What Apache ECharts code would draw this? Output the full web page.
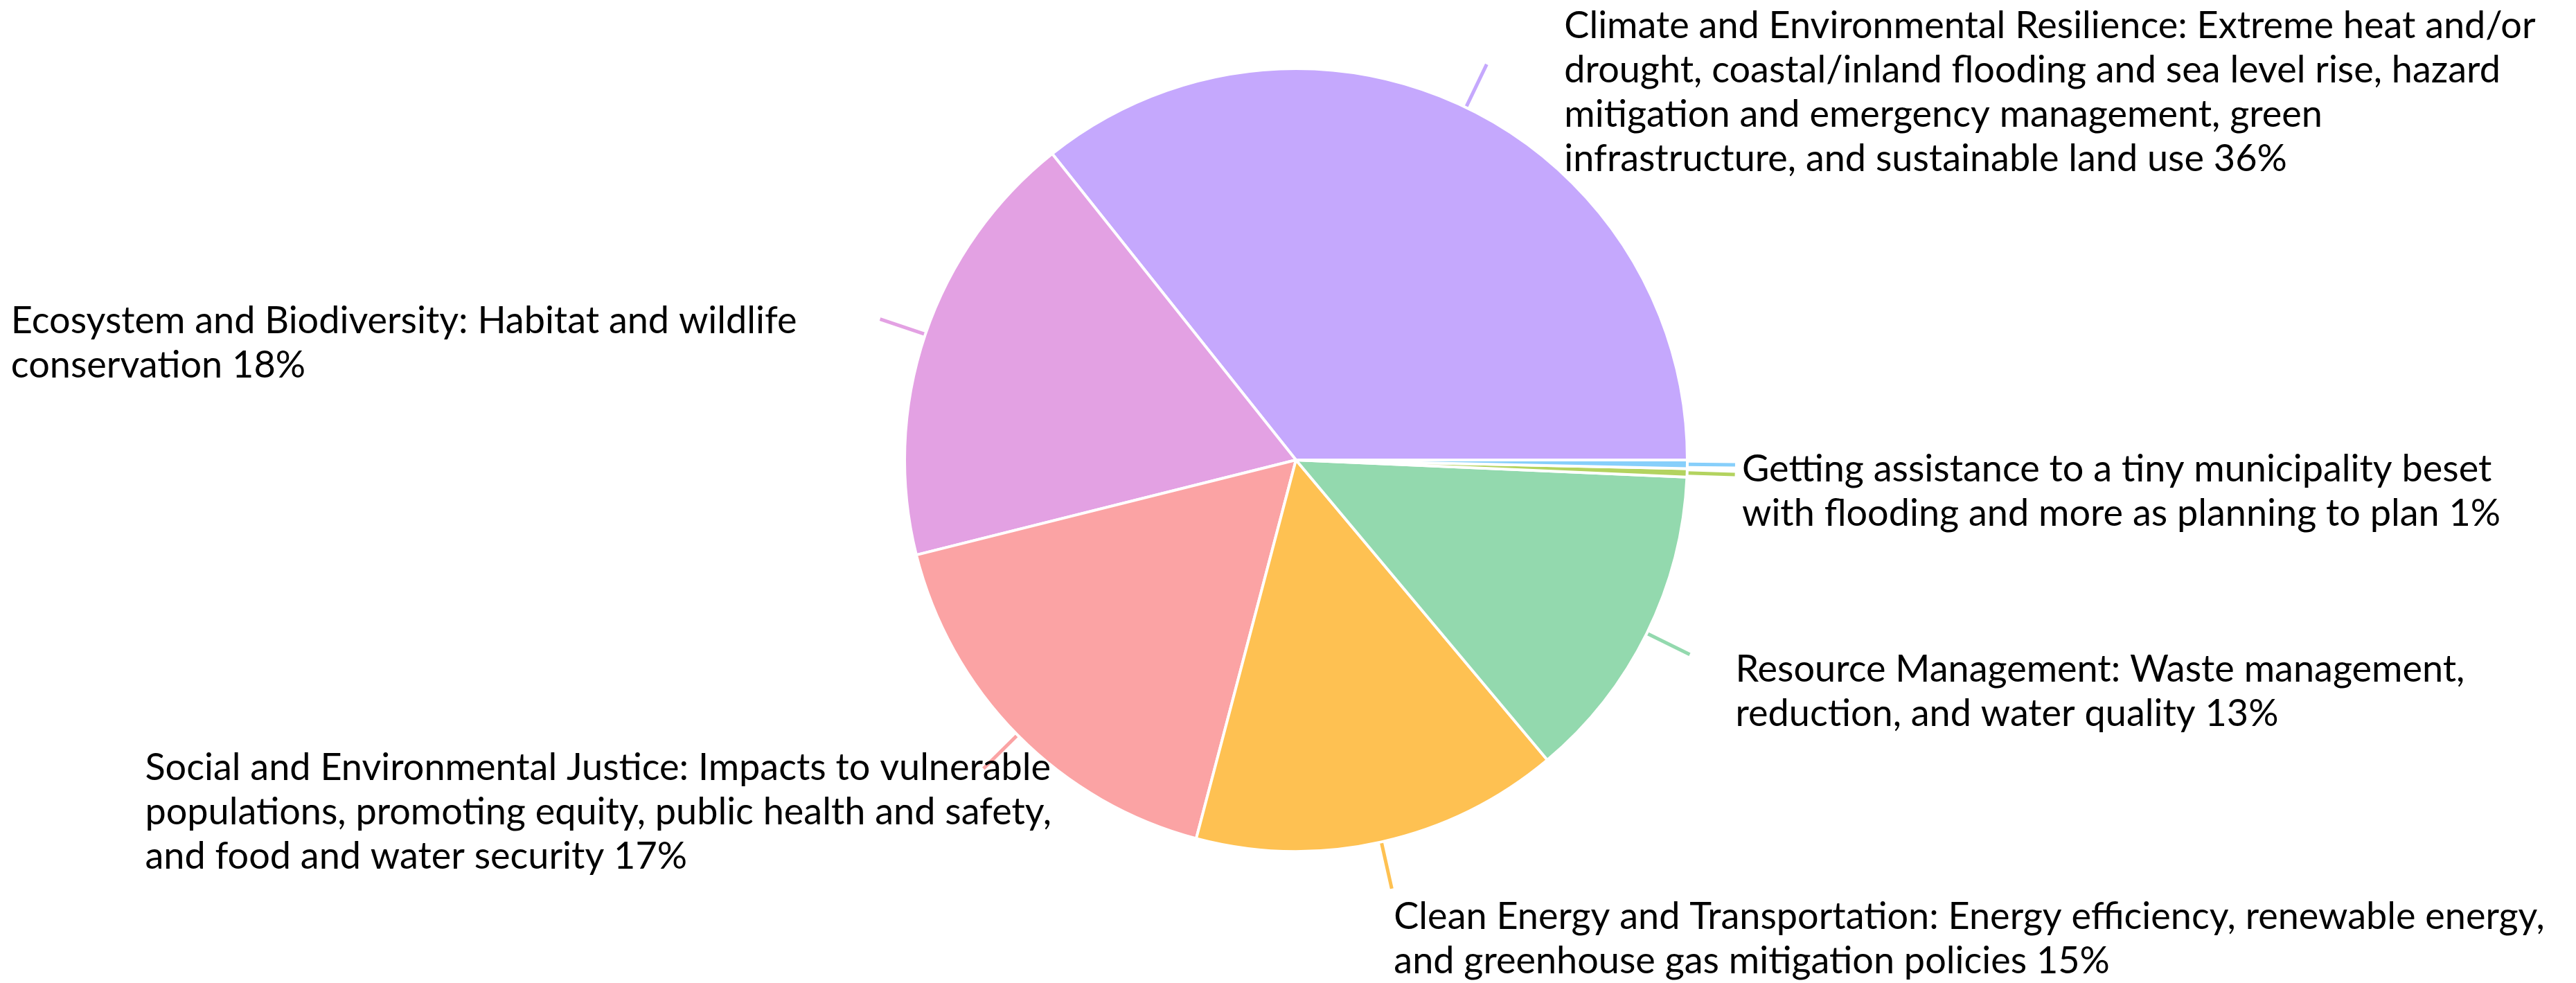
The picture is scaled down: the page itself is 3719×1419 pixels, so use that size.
<!DOCTYPE html>
<html>
<head>
<meta charset="utf-8">
<script src="https://cdn.jsdelivr.net/npm/echarts@6/dist/echarts.min.js"></script>
<style>
  html, body { margin: 0; padding: 0; background: #fff; }
  #chart { width: 3719px; height: 1419px; }
</style>
</head>
<body>
<div id="chart"></div>
<script>
// slice names, as wrapped in the picture
const categories = [
  'Climate and Environmental Resilience: Extreme heat and/or\ndrought, coastal/inland flooding and sea level rise, hazard\nmitigation and emergency management, green\ninfrastructure, and sustainable land use',
  'Ecosystem and Biodiversity: Habitat and wildlife\nconservation',
  'Social and Environmental Justice: Impacts to vulnerable\npopulations, promoting equity, public health and safety,\nand food and water security',
  'Clean Energy and Transportation: Energy efficiency, renewable energy,\nand greenhouse gas mitigation policies',
  'Resource Management: Waste management,\nreduction, and water quality',
  '',
  'Getting assistance to a tiny municipality beset\nwith flooding and more as planning to plan'
]
// slice sizes (share of the whole)
const values = [35.7, 18.2, 17.0, 15.2, 13.2, 0.35, 0.35]
// percent shown in the labels
const shares = [36, 18, 17, 15, 13, 1, 1]
const colors = ['#c5a8fd', '#e3a1e3', '#fba3a4', '#fec152', '#93d9ae', '#b3d35f', '#87cffb']

// where each label box sits relative to the end of its leader line
// side: which edge of the box is anchored, dx/dy: offset of that edge / of the box top
const labelPlace = [
  { side: 'left', dx: 112, dy: -87 },
  { side: 'right', dx: -120, dy: -29 },
  { side: 'right', dx: 98, dy: -33 },
  { side: 'left', dx: 3, dy: 9 },
  { side: 'left', dx: 66, dy: -10 },
  { side: 'left', dx: 10, dy: -25 },
  { side: 'left', dx: 10, dy: -25 }
]

const chart = echarts.init(document.getElementById('chart'))

chart.setOption({
  animation: false,
  color: colors,
  series: [{
    type: 'pie',
    center: [1871, 664],
    radius: 565,
    startAngle: 0,
    clockwise: false,
    avoidLabelOverlap: false,
    minShowLabelAngle: 0,
    itemStyle: {
      borderColor: '#fff',
      borderWidth: 4
    },
    label: {
      show: true,
      position: 'outside',
      fontFamily: 'Lato',
      fontSize: 54,
      lineHeight: 64,
      color: '#000',
      formatter: p => p.name ? p.name + ' ' + shares[p.dataIndex] + '%' : ' '
    },
    labelLine: {
      show: true,
      length: 69,
      length2: 0,
      smooth: false,
      lineStyle: { width: 5 }
    },
    labelLayout: function(params) {
      const pts = params.labelLinePoints
      const place = labelPlace[params.dataIndex]
      if (!pts || !place) return {}
      const end = pts[1]
      const w = params.labelRect.width
      const x = place.side === 'left' ? end[0] + place.dx : end[0] + place.dx - w
      return {
        x: x,
        y: end[1] + place.dy,
        align: 'left',
        verticalAlign: 'top',
        labelLinePoints: [pts[0], pts[1]]
      }
    },
    emphasis: { disabled: true },
    data: categories.map((name, i) => ({ name: name, value: values[i] }))
  }]
})
</script>
</body>
</html>
